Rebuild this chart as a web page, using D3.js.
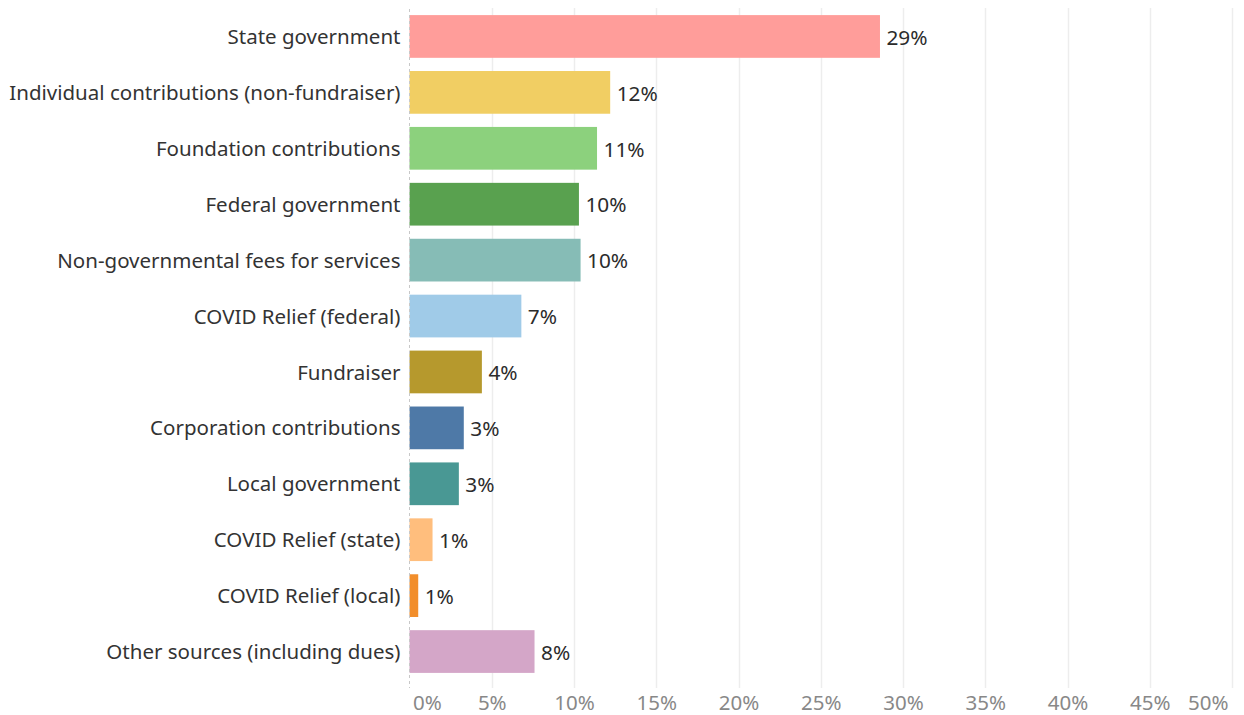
<!DOCTYPE html>
<html>
<head>
<meta charset="utf-8">
<script src="https://cdn.jsdelivr.net/npm/d3@7"></script>
<style>
  html, body { margin: 0; padding: 0; background: #fff; }
  svg { display: block; }
  text { font-family: "Noto Sans", "Lato", sans-serif; }
</style>
</head>
<body>
<svg id="chart" width="1244" height="715"></svg>
<script>
// Revenue sources, share of total revenue
const categories = [
  "State government",
  "Individual contributions (non-fundraiser)",
  "Foundation contributions",
  "Federal government",
  "Non-governmental fees for services",
  "COVID Relief (federal)",
  "Fundraiser",
  "Corporation contributions",
  "Local government",
  "COVID Relief (state)",
  "COVID Relief (local)",
  "Other sources (including dues)"
];
const shares = [0.286, 0.122, 0.114, 0.103, 0.104, 0.068, 0.044, 0.033, 0.030, 0.014, 0.0053, 0.076];
const barColors = [
  "#FF9D9A", "#F1CE63", "#8CD17D", "#59A14F", "#86BCB6", "#A0CBE8",
  "#B6992D", "#4E79A7", "#499894", "#FFBE7D", "#F28E2B", "#D4A6C8"
];
const tickValues = [0, 0.05, 0.10, 0.15, 0.20, 0.25, 0.30, 0.35, 0.40, 0.45, 0.50];

const svg = d3.select("#chart");
const plotLeft = 409.5, plotRight = 1232, plotTop = 8.5, plotBottom = 679.5;

const x = d3.scaleLinear().domain([0, 0.5]).range([plotLeft, plotRight]);
const y = d3.scaleBand().domain(categories).range([plotTop, plotBottom]).paddingInner(0.236).paddingOuter(0.118);

const pct = d3.format(".0%");

// vertical gridlines
svg.append("g")
  .selectAll("line")
  .data(tickValues.slice(1))
  .join("line")
  .attr("x1", d => Math.round(x(d)) + 0.5)
  .attr("x2", d => Math.round(x(d)) + 0.5)
  .attr("y1", 8)
  .attr("y2", 688)
  .attr("stroke", "#ededed")
  .attr("stroke-width", 1.5);

// bars
svg.append("g")
  .selectAll("rect")
  .data(categories)
  .join("rect")
  .attr("x", x(0))
  .attr("y", d => y(d))
  .attr("width", (d, i) => x(shares[i]) - x(0))
  .attr("height", y.bandwidth())
  .attr("fill", (d, i) => barColors[i]);

// zero line (dashed)
svg.append("line")
  .attr("x1", x(0)).attr("x2", x(0))
  .attr("y1", 9).attr("y2", 688)
  .attr("stroke", "#c8c8c8")
  .attr("stroke-width", 1)
  .attr("stroke-dasharray", "3,3");

// value labels
svg.append("g")
  .selectAll("text")
  .data(categories)
  .join("text")
  .attr("x", (d, i) => x(shares[i]) + 6.5)
  .attr("y", d => y(d) + y.bandwidth() / 2 + 1)
  .attr("dy", "0.35em")
  .attr("font-size", 20.8)
  .attr("fill", "#2b2b2b")
  .text((d, i) => pct(shares[i]));

// category axis
const yAxis = d3.axisLeft(y).tickSize(0).tickPadding(9);
svg.append("g")
  .attr("transform", `translate(${plotLeft},1)`)
  .call(yAxis)
  .call(g => g.select(".domain").remove())
  .call(g => g.selectAll("text")
    .attr("font-size", 20.5)
    .attr("font-family", "\"Noto Sans\", sans-serif")
    .attr("fill", "#333"));

// value axis
const xAxis = d3.axisBottom(x).tickValues(tickValues).tickFormat(pct).tickSize(0).tickPadding(0);
svg.append("g")
  .attr("transform", "translate(0,695)")
  .call(xAxis)
  .call(g => g.select(".domain").remove())
  .call(g => g.selectAll("text")
    .attr("font-size", 20.5)
    .attr("font-family", "\"Noto Sans\", sans-serif")
    .attr("fill", "#888")
    .attr("text-anchor", d => d === 0 ? "start" : d === 0.5 ? "end" : "middle")
    .attr("dx", d => d === 0 ? 3 : d === 0.5 ? -4 : 0));
</script>
</body>
</html>
